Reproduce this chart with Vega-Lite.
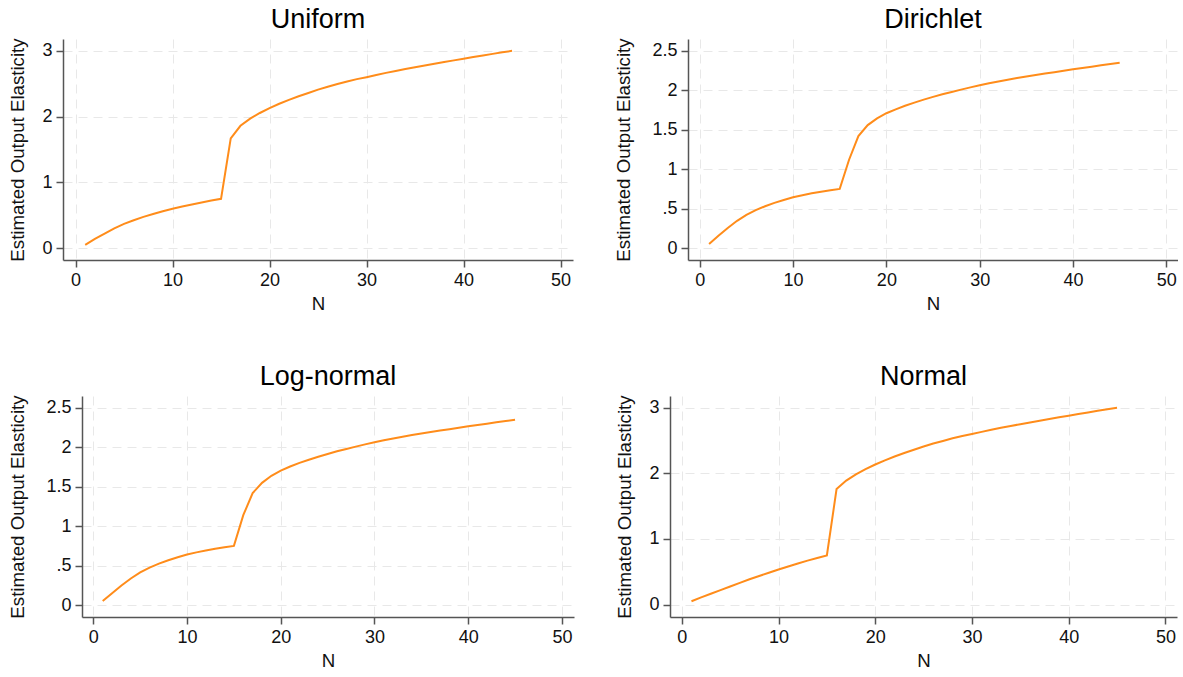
{
  "$schema": "https://vega.github.io/schema/vega-lite/v6.json",
  "padding": {"left": 8, "top": 5, "right": 0, "bottom": 0},
  "background": "white",
  "datasets": {
    "uniform": [
      {"N":1,"E":0.05},{"N":2,"E":0.14},{"N":3,"E":0.22},{"N":4,"E":0.30},{"N":5,"E":0.37},{"N":6,"E":0.425},{"N":7,"E":0.475},{"N":8,"E":0.52},{"N":9,"E":0.56},{"N":10,"E":0.60},{"N":11,"E":0.633},{"N":12,"E":0.665},{"N":13,"E":0.695},{"N":14,"E":0.723},{"N":15,"E":0.75},
      {"N":16,"E":1.67},{"N":17,"E":1.86},{"N":18,"E":1.97},{"N":19,"E":2.055},{"N":20,"E":2.13},{"N":21,"E":2.195},{"N":22,"E":2.255},{"N":23,"E":2.31},{"N":24,"E":2.36},{"N":25,"E":2.41},{"N":26,"E":2.455},{"N":27,"E":2.495},{"N":28,"E":2.535},{"N":29,"E":2.57},{"N":30,"E":2.60},{"N":31,"E":2.633},{"N":32,"E":2.665},{"N":33,"E":2.695},{"N":34,"E":2.723},{"N":35,"E":2.75},{"N":36,"E":2.777},{"N":37,"E":2.803},{"N":38,"E":2.829},{"N":39,"E":2.855},{"N":40,"E":2.88},{"N":41,"E":2.905},{"N":42,"E":2.93},{"N":43,"E":2.954},{"N":44,"E":2.977},{"N":45,"E":3.0}
    ],
    "dirichlet": [
      {"N":1,"E":0.05},{"N":2,"E":0.155},{"N":3,"E":0.255},{"N":4,"E":0.345},{"N":5,"E":0.42},{"N":6,"E":0.48},{"N":7,"E":0.53},{"N":8,"E":0.573},{"N":9,"E":0.61},{"N":10,"E":0.643},{"N":11,"E":0.67},{"N":12,"E":0.694},{"N":13,"E":0.715},{"N":14,"E":0.733},{"N":15,"E":0.75},
      {"N":16,"E":1.12},{"N":17,"E":1.42},{"N":18,"E":1.56},{"N":19,"E":1.645},{"N":20,"E":1.71},{"N":21,"E":1.76},{"N":22,"E":1.805},{"N":23,"E":1.845},{"N":24,"E":1.883},{"N":25,"E":1.918},{"N":26,"E":1.95},{"N":27,"E":1.98},{"N":28,"E":2.01},{"N":29,"E":2.038},{"N":30,"E":2.065},{"N":31,"E":2.09},{"N":32,"E":2.113},{"N":33,"E":2.135},{"N":34,"E":2.156},{"N":35,"E":2.176},{"N":36,"E":2.195},{"N":37,"E":2.213},{"N":38,"E":2.231},{"N":39,"E":2.249},{"N":40,"E":2.267},{"N":41,"E":2.284},{"N":42,"E":2.301},{"N":43,"E":2.318},{"N":44,"E":2.334},{"N":45,"E":2.35}
    ],
    "lognormal": [
      {"N":1,"E":0.05},{"N":2,"E":0.15},{"N":3,"E":0.248},{"N":4,"E":0.337},{"N":5,"E":0.413},{"N":6,"E":0.474},{"N":7,"E":0.525},{"N":8,"E":0.568},{"N":9,"E":0.606},{"N":10,"E":0.64},{"N":11,"E":0.668},{"N":12,"E":0.692},{"N":13,"E":0.713},{"N":14,"E":0.732},{"N":15,"E":0.75},
      {"N":16,"E":1.14},{"N":17,"E":1.42},{"N":18,"E":1.55},{"N":19,"E":1.64},{"N":20,"E":1.705},{"N":21,"E":1.757},{"N":22,"E":1.803},{"N":23,"E":1.844},{"N":24,"E":1.882},{"N":25,"E":1.917},{"N":26,"E":1.95},{"N":27,"E":1.98},{"N":28,"E":2.01},{"N":29,"E":2.038},{"N":30,"E":2.065},{"N":31,"E":2.09},{"N":32,"E":2.113},{"N":33,"E":2.135},{"N":34,"E":2.156},{"N":35,"E":2.176},{"N":36,"E":2.195},{"N":37,"E":2.213},{"N":38,"E":2.231},{"N":39,"E":2.249},{"N":40,"E":2.267},{"N":41,"E":2.284},{"N":42,"E":2.301},{"N":43,"E":2.318},{"N":44,"E":2.334},{"N":45,"E":2.35}
    ],
    "normal": [
      {"N":1,"E":0.05},{"N":2,"E":0.11},{"N":3,"E":0.165},{"N":4,"E":0.22},{"N":5,"E":0.275},{"N":6,"E":0.33},{"N":7,"E":0.385},{"N":8,"E":0.435},{"N":9,"E":0.485},{"N":10,"E":0.535},{"N":11,"E":0.58},{"N":12,"E":0.625},{"N":13,"E":0.67},{"N":14,"E":0.71},{"N":15,"E":0.75},
      {"N":16,"E":1.76},{"N":17,"E":1.89},{"N":18,"E":1.985},{"N":19,"E":2.065},{"N":20,"E":2.135},{"N":21,"E":2.198},{"N":22,"E":2.257},{"N":23,"E":2.311},{"N":24,"E":2.361},{"N":25,"E":2.41},{"N":26,"E":2.455},{"N":27,"E":2.495},{"N":28,"E":2.535},{"N":29,"E":2.57},{"N":30,"E":2.60},{"N":31,"E":2.633},{"N":32,"E":2.665},{"N":33,"E":2.695},{"N":34,"E":2.723},{"N":35,"E":2.75},{"N":36,"E":2.777},{"N":37,"E":2.803},{"N":38,"E":2.829},{"N":39,"E":2.855},{"N":40,"E":2.88},{"N":41,"E":2.905},{"N":42,"E":2.93},{"N":43,"E":2.954},{"N":44,"E":2.977},{"N":45,"E":3.0}
    ]
  },
  "align": "none",
  "spacing": 49,
  "vconcat": [
    {
      "spacing": 41,
      "align": "none",
      "hconcat": [
        {
          "width": 510, "height": 221,
          "title": "Uniform",
          "data": {"name": "uniform"},
          "mark": {"type": "line", "color": "#ff8c1a", "strokeWidth": 2},
          "encoding": {
            "x": {"field": "N", "type": "quantitative", "scale": {"domain": [-1.29, 51.28], "nice": false, "zero": false}, "axis": {"values": [0,10,20,30,40,50], "title": "N"}},
            "y": {"field": "E", "type": "quantitative", "scale": {"domain": [-0.18, 3.18], "nice": false}, "axis": {"values": [0,1,2,3], "format": "~g", "titlePadding": 14, "title": "Estimated Output Elasticity"}}
          }
        },
        {
          "width": 490, "height": 221,
          "title": "Dirichlet",
          "data": {"name": "dirichlet"},
          "mark": {"type": "line", "color": "#ff8c1a", "strokeWidth": 2},
          "encoding": {
            "x": {"field": "N", "type": "quantitative", "scale": {"domain": [-1.26, 51.25], "nice": false, "zero": false}, "axis": {"values": [0,10,20,30,40,50], "title": "N"}},
            "y": {"field": "E", "type": "quantitative", "scale": {"domain": [-0.152, 2.652], "nice": false}, "axis": {"values": [0,0.5,1,1.5,2,2.5], "format": "~g", "labelExpr": "datum.value == 0.5 ? '.5' : datum.label", "titlePadding": 18, "title": "Estimated Output Elasticity"}}
          }
        }
      ]
    },
    {
      "spacing": 41,
      "align": "none",
      "hconcat": [
        {
          "width": 511, "height": 221,
          "title": {"text": "Log-normal", "dx": 9.5},
          "data": {"name": "lognormal"},
          "mark": {"type": "line", "color": "#ff8c1a", "strokeWidth": 2},
          "encoding": {
            "x": {"field": "N", "type": "quantitative", "scale": {"domain": [-1.21, 51.29], "nice": false, "zero": false, "range": [19, 511]}, "axis": {"values": [0,10,20,30,40,50], "title": "N", "titleX": 265}},
            "y": {"field": "E", "type": "quantitative", "scale": {"domain": [-0.152, 2.652], "nice": false}, "axis": {"values": [0,0.5,1,1.5,2,2.5], "format": "~g", "labelExpr": "datum.value == 0.5 ? '.5' : datum.label", "titlePadding": 18, "offset": -19, "title": "Estimated Output Elasticity"}}
          }
        },
        {
          "width": 507, "height": 221,
          "title": "Normal",
          "data": {"name": "normal"},
          "mark": {"type": "line", "color": "#ff8c1a", "strokeWidth": 2},
          "encoding": {
            "x": {"field": "N", "type": "quantitative", "scale": {"domain": [-1.22, 51.2], "nice": false, "zero": false}, "axis": {"values": [0,10,20,30,40,50], "title": "N"}},
            "y": {"field": "E", "type": "quantitative", "scale": {"domain": [-0.19, 3.18], "nice": false}, "axis": {"values": [0,1,2,3], "format": "~g", "titlePadding": 14, "title": "Estimated Output Elasticity"}}
          }
        }
      ]
    }
  ],
  "config": {
    "font": "Liberation Sans",
    "view": {"stroke": null},
    "title": {"fontSize": 27, "fontWeight": "normal", "color": "#000000", "offset": 4, "anchor": "middle"},
    "axis": {
      "domainColor": "#555555", "domainWidth": 1.5,
      "tickColor": "#555555", "tickWidth": 1.5, "tickSize": 7,
      "labelFontSize": 18, "labelColor": "#111111", "labelPadding": 4,
      "titleFontSize": 18.7, "titleFontWeight": "normal", "titleColor": "#111111",
      "gridColor": "#e8e8e8", "gridDash": [9, 6], "gridWidth": 1
    },
    "axisX": {"titlePadding": 5}
  }
}
